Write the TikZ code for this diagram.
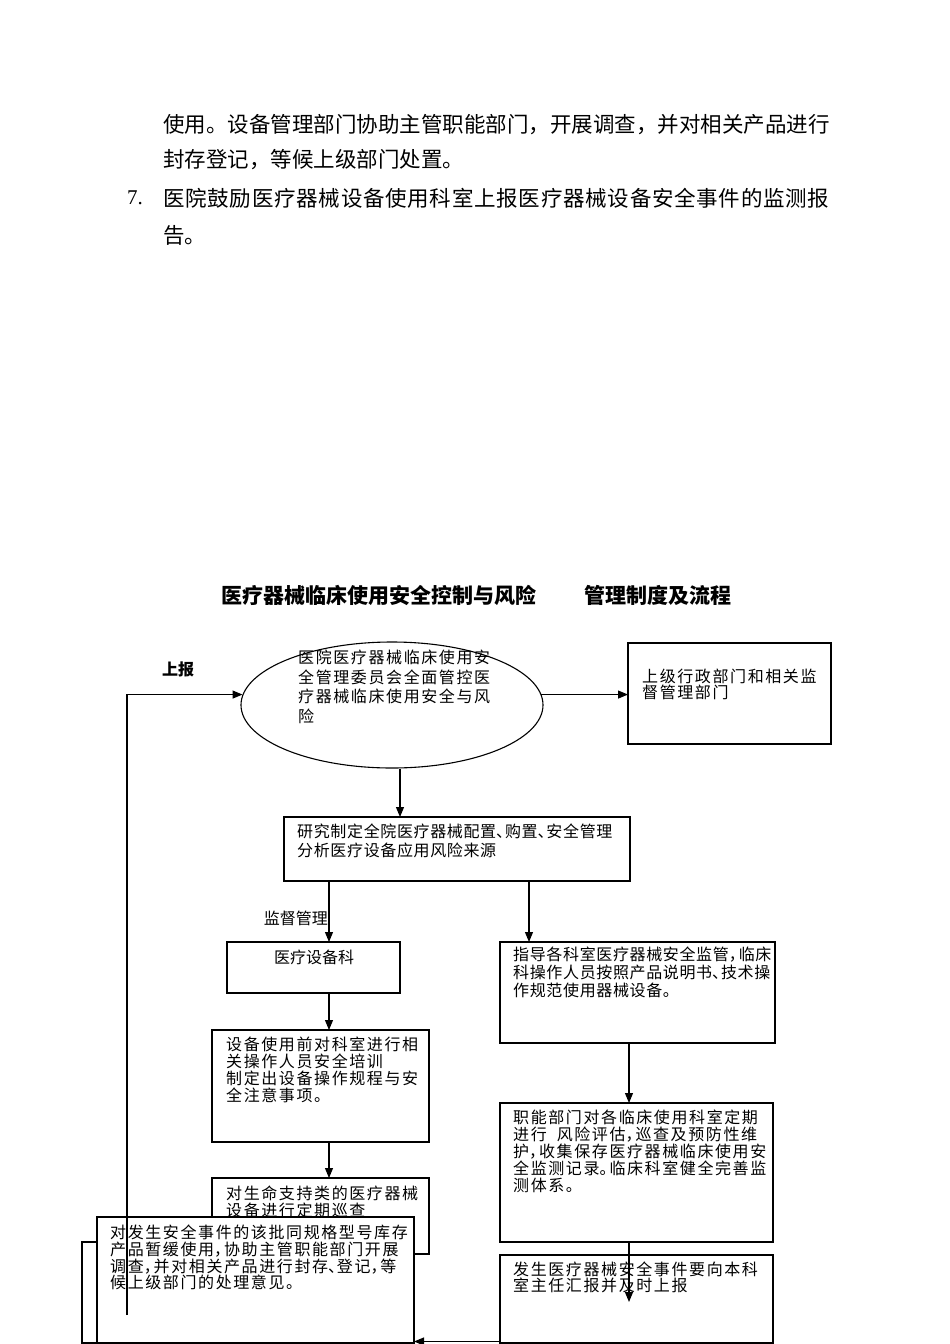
\documentclass[tikz,border=0pt]{standalone}
\usepackage{fontspec}
\setmainfont{Noto Sans CJK SC}
\newfontfamily\cjksp[LetterSpace=10]{Noto Sans CJK SC}
\newfontfamily\cjkmd[LetterSpace=4]{Noto Sans CJK SC}
\newfontfamily\cjkbody[LetterSpace=3.4]{Noto Sans CJK SC}
\newfontfamily\serifnum{Liberation Serif}
\newcommand\hc{\makebox[0.62em][l]{，}}
\newcommand\hd{\makebox[0.55em][l]{、}}
\newcommand\hp{\makebox[0.62em][l]{。}}
\usetikzlibrary{arrows.meta,shapes.geometric}
\tikzset{
  box/.style={draw, line width=1.1pt, rectangle, inner sep=0pt, outer sep=0pt, anchor=north west, fill=white},
  txt/.style={inner sep=0pt, anchor=north west, align=left},
  bodytxt/.style={inner sep=0pt, anchor=west, font=\fontsize{21.5}{37}\selectfont},
  arr/.style={line width=1.1pt, -{Triangle[length=10pt,width=8pt]}},
  ln/.style={line width=1.1pt},
}
\begin{document}
\begin{tikzpicture}[x=1pt,y=-1pt]
\useasboundingbox (0,0) rectangle (950,1344);

% body text
\node[bodytxt] (p1) at (163,125) {使用。设备管理部门协助主管职能部门，开展调查，并对相关产品进行};
\node[bodytxt] (p2) at (163,160) {封存登记，等候上级部门处置。};
\node[inner sep=0pt, anchor=west, font=\serifnum\fontsize{21}{21}\selectfont] (n7) at (127,198) {7.};
\node[bodytxt, font=\cjkbody\fontsize{21.5}{37}\selectfont] (p3) at (163,198) {医院鼓励医疗器械设备使用科室上报医疗器械设备安全事件的监测报};
\node[bodytxt] (p4) at (163,235) {告。};

% title
\node[inner sep=0pt, anchor=west, font=\fontsize{21}{21}\selectfont\bfseries] (title) at (221,595)
  {医疗器械临床使用安全控制与风险\hspace{48pt}管理制度及流程};

% ellipse
\node[draw, ellipse, line width=1.1pt, minimum width=302pt, minimum height=126pt, inner sep=0pt] (ell) at (392,705) {};
\node[txt, font=\cjksp\fontsize{16}{19.5}\selectfont] (tell) at (298,650)
  {医院医疗器械临床使用安\\全管理委员会全面管控医\\疗器械临床使用安全与风\\险};
\node[inner sep=0pt, font=\fontsize{16}{16}\selectfont\bfseries] (lsb) at (178,669) {上报};

% right box
\node[box, minimum width=203pt, minimum height=101pt] (rb) at (628,643) {};
\node[txt, font=\cjksp\fontsize{16}{16}\selectfont] (trb) at (642,669)
  {上级行政部门和相关监\\督管理部门};

% b1
\node[box, minimum width=346pt, minimum height=64pt] (b1) at (284,817) {};
\node[txt, font=\cjkmd\fontsize{16}{19}\selectfont] (tb1) at (297,824)
  {研究制定全院医疗器械配置\hd 购置\hd 安全管理\\分析医疗设备应用风险来源};

\node[inner sep=0pt, anchor=east, font=\fontsize{16}{16}\selectfont] (ljd) at (328,918) {监督管理};

% b2
\node[box, minimum width=173pt, minimum height=51pt] (b2) at (227,942) {};
\node[inner sep=0pt, font=\fontsize{16}{16}\selectfont] (tb2) at (314,957) {医疗设备科};

% b3
\node[box, minimum width=275pt, minimum height=101pt] (b3) at (500,942) {};
\node[txt, font=\cjkmd\fontsize{16}{18}\selectfont] (tb3) at (513,947)
  {指导各科室医疗器械安全监管\hc 临床\\科操作人员按照产品说明书\hd 技术操\\作规范使用器械设备。};

% b4
\node[box, minimum width=217pt, minimum height=112pt] (b4) at (212,1030) {};
\node[txt, font=\cjksp\fontsize{16}{17}\selectfont] (tb4) at (226,1037)
  {设备使用前对科室进行相\\关操作人员安全培训\\制定出设备操作规程与安\\全注意事项。};

% b7
\node[box, minimum width=273pt, minimum height=139pt] (b7) at (500,1103) {};
\node[txt, font=\cjksp\fontsize{16}{17}\selectfont] (tb7) at (513,1110)
  {职能部门对各临床使用科室定期\\进行\hspace{10pt}风险评估\hc 巡查及预防性维\\护\hc 收集保存医疗器械临床使用安\\全监测记录\hp 临床科室健全完善监\\测体系。};

% b5
\node[box, minimum width=217pt, minimum height=76pt] (b5) at (212,1178) {};
\node[txt, font=\cjksp\fontsize{16}{17}\selectfont] (tb5) at (226,1186)
  {对生命支持类的医疗器械\\设备进行定期巡查};

% b6
\node[box, minimum width=317pt, minimum height=126pt] (b6) at (97,1217) {};
\node[txt, font=\cjksp\fontsize{16}{16.7}\selectfont] (tb6) at (110,1225)
  {对发生安全事件的该批同规格型号库存\\产品暂缓使用\hc 协助主管职能部门开展\\调查\hc 并对相关产品进行封存\hd 登记\hc 等\\候上级部门的处理意见。};

% b8
\node[box, minimum width=273pt, minimum height=88pt] (b8) at (500,1255) {};
\node[txt, font=\cjksp\fontsize{16}{16}\selectfont] (tb8) at (513,1262)
  {发生医疗器械安全事件要向本科\\室主任汇报并及时上报};

% connectors
\coordinate (xl) at (329,0);
\coordinate (xr) at (529,0);
\coordinate (xr2) at (629,0);
\coordinate (c1) at (127,1315);
\coordinate (t8) at (629,1302);
\coordinate (k1) at (82,1242);

\draw[arr] (c1) |- (ell.176);
\draw[arr] (ell.4) -- (ell.4 -| rb.west);
\draw[arr] ([xshift=8pt]ell.south) -- ([xshift=8pt]ell.south |- b1.north);
\draw[arr] (b1.south -| xl) -- (b2.north -| xl);
\draw[arr] (b1.south -| xr) -- (b3.north -| xr);
\draw[arr] (b2.south -| xl) -- (b4.north -| xl);
\draw[arr] (b4.south -| xl) -- (b5.north -| xl);
\draw[arr] (b3.south -| xr2) -- (b7.north -| xr2);
\draw[arr] (b7.south -| t8) -- (t8);
\draw[arr] ([yshift=1.5pt]b8.south west) -- ([yshift=1.5pt]b8.south west -| b6.east);
\draw[ln] (b6.west |- k1) -- (k1) -- (k1 |- b6.south) -- (b6.south west);
\end{tikzpicture}
\end{document}
